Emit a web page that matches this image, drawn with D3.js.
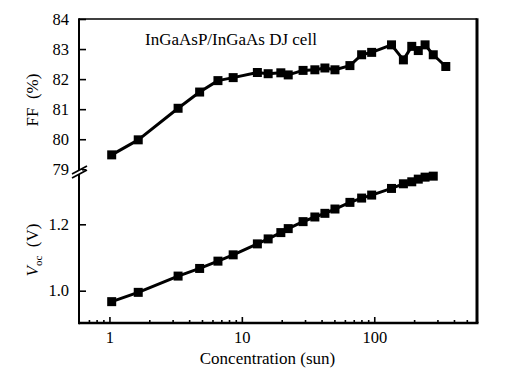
<!DOCTYPE html>
<html>
<head>
<meta charset="utf-8">
<script src="https://cdn.jsdelivr.net/npm/d3@7"></script>
<style>
  body { margin: 0; background: #fff; }
  svg { display: block; }
</style>
</head>
<body>
<svg id="chart" width="509" height="377"></svg>
<script>
// FF data (concentration in suns, fill factor in %)
const ffSuns = [1.04, 1.65, 3.3, 4.8, 6.6, 8.6, 13.1, 15.8, 19.7, 22.4, 29, 35.6, 42.4, 50.5, 65.5, 80.3, 95.6, 135, 166, 192, 215, 242, 279, 347];
const ffValues = [79.48, 79.98, 81.03, 81.57, 81.95, 82.05, 82.22, 82.18, 82.21, 82.14, 82.29, 82.31, 82.37, 82.31, 82.45, 82.81, 82.89, 83.14, 82.64, 83.09, 82.95, 83.14, 82.81, 82.42];

// Voc data (V)
const vocSuns = [1.04, 1.65, 3.3, 4.8, 6.6, 8.6, 13.1, 15.8, 19.7, 22.4, 29, 35.6, 42.4, 50.5, 65.5, 80.3, 95.6, 135, 166, 192, 215, 242, 279];
const vocValues = [0.967, 0.995, 1.044, 1.067, 1.089, 1.108, 1.141, 1.156, 1.175, 1.187, 1.208, 1.222, 1.233, 1.246, 1.266, 1.279, 1.288, 1.308, 1.322, 1.328, 1.336, 1.342, 1.345];

const xTicks = [1, 10, 100];
const ffTicks = [79, 80, 81, 82, 83, 84];
const vocTicks = [1.0, 1.2];

const FONT = 'Liberation Serif, Times New Roman, Times, serif';

const svg = d3.select('#chart');

// Plot frame
const plotLeft = 79, plotRight = 477, plotTop = 19, plotBottom = 323;
const breakY = 172;

const x = d3.scaleLog().domain([0.589, 597]).range([plotLeft, plotRight]);
const yFF = d3.scaleLinear().domain([79, 84]).range([169.3, plotTop]);
const yV = d3.scaleLinear().domain([0.9027, 1.3575]).range([plotBottom, breakY]);

// Minor x ticks
const minor = [];
[0.1, 1, 10, 100].forEach(d => {
  for (let k = 2; k <= 9; k++) {
    const v = d * k;
    if (v > 0.62 && v < 590) minor.push(v);
  }
});

const g = svg.append('g').attr('font-family', FONT);

// Bottom axis
g.append('g')
  .attr('transform', `translate(0,${plotBottom})`)
  .call(d3.axisBottom(x).tickValues(minor).tickFormat('').tickSizeInner(-3).tickSizeOuter(0))
  .call(a => a.select('.domain').remove());

const xAxis = g.append('g')
  .attr('transform', `translate(0,${plotBottom})`)
  .call(d3.axisBottom(x).tickValues(xTicks).tickFormat(d3.format('d')).tickSizeInner(-6).tickSizeOuter(0).tickPadding(8));
xAxis.select('.domain').remove();

// Left ticks FF
const ffAxis = g.append('g')
  .attr('transform', `translate(${plotLeft},0)`)
  .call(d3.axisLeft(yFF).tickValues(ffTicks).tickFormat(d3.format('d')).tickSizeInner(-7).tickSizeOuter(0).tickPadding(10));
ffAxis.select('.domain').remove();

// Left ticks Voc
const vAxis = g.append('g')
  .attr('transform', `translate(${plotLeft},0)`)
  .call(d3.axisLeft(yV).tickValues(vocTicks).tickFormat(d3.format('.1f')).tickSizeInner(-7).tickSizeOuter(0).tickPadding(10));
vAxis.select('.domain').remove();

// d3 axes put font-family="sans-serif" on their groups; override
g.selectAll('g').attr('font-family', FONT);
g.selectAll('.tick text').attr('font-size', 16.5);
g.selectAll('.tick line').attr('stroke', '#000').attr('stroke-width', 1.6);

// Frame
g.append('line').attr('x1', plotLeft).attr('x2', plotRight).attr('y1', plotTop).attr('y2', plotTop)
  .attr('stroke', '#000').attr('stroke-width', 1.6);
g.append('line').attr('x1', plotLeft).attr('x2', plotRight + 1.5).attr('y1', plotBottom).attr('y2', plotBottom)
  .attr('stroke', '#000').attr('stroke-width', 2.4);
g.append('line').attr('x1', plotRight).attr('x2', plotRight).attr('y1', plotTop - 0.8).attr('y2', plotBottom)
  .attr('stroke', '#000').attr('stroke-width', 3);
g.append('line').attr('x1', plotLeft).attr('x2', plotLeft).attr('y1', plotTop - 0.8).attr('y2', plotBottom + 1.2)
  .attr('stroke', '#000').attr('stroke-width', 2);

// Axis break
g.append('rect').attr('x', plotLeft - 3).attr('y', 170).attr('width', 6).attr('height', 4).attr('fill', '#fff');
[0, 4].forEach(o => {
  g.append('line')
    .attr('x1', plotLeft - 7).attr('y1', 176 + o - 2)
    .attr('x2', plotLeft + 8).attr('y2', 168 + o - 2)
    .attr('stroke', '#000').attr('stroke-width', 1.6);
});

// Series
const ffData = ffSuns.map((s, i) => ({ s, v: ffValues[i] }));
const vData = vocSuns.map((s, i) => ({ s, v: vocValues[i] }));

function drawSeries(data, y) {
  g.append('path')
    .datum(data)
    .attr('fill', 'none')
    .attr('stroke', '#000')
    .attr('stroke-width', 3)
    .attr('stroke-linejoin', 'round')
    .attr('d', d3.line().x(d => x(d.s)).y(d => y(d.v)));
  g.selectAll(null)
    .data(data)
    .enter()
    .append('rect')
    .attr('x', d => x(d.s) - 4.5)
    .attr('y', d => y(d.v) - 4.5)
    .attr('width', 9)
    .attr('height', 9)
    .attr('fill', '#000');
}
drawSeries(ffData, yFF);
drawSeries(vData, yV);

// Labels
g.append('text')
  .attr('x', 145).attr('y', 45)
  .attr('font-size', 17)
  .text('InGaAsP/InGaAs DJ cell');

g.append('text')
  .attr('x', 267.5).attr('y', 364)
  .attr('text-anchor', 'middle')
  .attr('font-size', 17)
  .text('Concentration (sun)');

g.append('text')
  .attr('transform', 'translate(38,100) rotate(-90)')
  .attr('text-anchor', 'middle')
  .attr('font-size', 17)
  .attr('xml:space', 'preserve')
  .text('FF  (%)');

const vt = g.append('text')
  .attr('transform', 'translate(38,250) rotate(-90)')
  .attr('text-anchor', 'middle')
  .attr('font-size', 17);
vt.append('tspan').attr('font-style', 'italic').text('V');
vt.append('tspan').attr('dy', 4).attr('font-size', 11).text('oc');
vt.append('tspan').attr('dy', -4).text('\u00a0\u00a0(V)');
</script>
</body>
</html>
